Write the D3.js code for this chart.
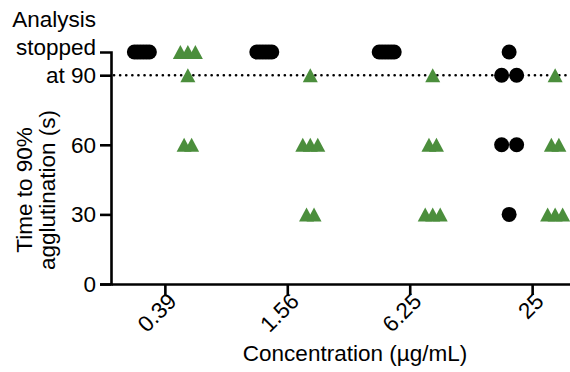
<!DOCTYPE html>
<html>
<head>
<meta charset="utf-8">
<script src="https://cdn.jsdelivr.net/npm/d3@7"></script>
<style>
  body { margin: 0; background: #fff; }
  svg { display: block; font-family: "Liberation Sans", Arial, sans-serif; }
</style>
</head>
<body>
<script>
// concentrations on the x axis (ug/mL)
const concentrations = ["0.39", "1.56", "6.25", "25"];
// time to 90% agglutination (s), 100 = analysis stopped
const blackTimes = [
  [100, 100, 100, 100, 100, 100],
  [100, 100, 100, 100, 100, 100],
  [100, 100, 100, 100, 100, 100],
  [100, 90, 90, 60, 60, 30]
];
const greenTimes = [
  [100, 100, 100, 90, 60, 60],
  [90, 60, 60, 60, 30, 30],
  [90, 60, 60, 30, 30, 30],
  [90, 60, 60, 30, 30, 30]
];
const yTicks = [0, 30, 60, 90];
const stopLine = 90;

const width = 570;
const height = 372;
const fs = 22.5;
const green = "#4b8e3c";

const svg = d3.select("body")
  .append("svg")
  .attr("width", width)
  .attr("height", height);

const x = d3.scalePoint()
  .domain(concentrations)
  .range([111, 586])
  .padding(0.44);

const y = d3.scaleLinear()
  .domain([0, 100])
  .range([284, 52]);

// spread repeated values sideways, like a column scatter
function layout(groups, shift, maxStep) {
  const pts = [];
  groups.forEach((vals, gi) => {
    const counts = d3.rollup(vals, v => v.length, d => d);
    counts.forEach((n, v) => {
      const step = n > 1 ? Math.min(maxStep, 15 / (n - 1)) : 0;
      for (let i = 0; i < n; i++) {
        pts.push({
          cx: x(concentrations[gi]) + shift + (i - (n - 1) / 2) * step,
          cy: y(v)
        });
      }
    });
  });
  return pts;
}

// dotted line at 90 s
svg.append("line")
  .attr("x1", 114)
  .attr("x2", width)
  .attr("y1", y(stopLine))
  .attr("y2", y(stopLine))
  .attr("stroke", "#000")
  .attr("stroke-width", 2.6)
  .attr("stroke-linecap", "round")
  .attr("stroke-dasharray", "0.1,6");

svg.selectAll(".dot")
  .data(layout(blackTimes, -23, 15))
  .enter()
  .append("circle")
  .attr("class", "dot")
  .attr("cx", d => d.cx)
  .attr("cy", d => d.cy)
  .attr("r", 7.5)
  .attr("fill", "#000");

svg.selectAll(".tri")
  .data(layout(greenTimes, 23, 7.5))
  .enter()
  .append("path")
  .attr("class", "tri")
  .attr("d", "M-7.5,7L7.5,7L0,-7Z")
  .attr("transform", d => `translate(${d.cx},${d.cy})`)
  .attr("fill", green);

// y axis
const yAxis = svg.append("g")
  .attr("transform", "translate(111,0)")
  .call(d3.axisLeft(y).tickValues(yTicks).tickSize(11).tickPadding(4)
    .tickFormat(d => d === 90 ? "at 90" : d));
yAxis.select(".domain").attr("stroke-width", 2.6);
yAxis.selectAll(".tick line").attr("stroke-width", 2.6);
yAxis.selectAll(".tick text").attr("font-size", fs).attr("fill", "#000");

["stopped", "Analysis"].forEach((t, i) => {
  yAxis.append("text")
    .attr("x", -15)
    .attr("y", y(90) - 27.5 * (i + 1))
    .attr("dy", "0.32em")
    .attr("text-anchor", "end")
    .attr("font-size", fs)
    .attr("fill", "#000")
    .text(t);
});

// x axis
const xAxis = svg.append("g")
  .attr("transform", "translate(0,284)")
  .call(d3.axisBottom(x).tickSize(11).tickSizeOuter(0).tickPadding(4));
xAxis.select(".domain").attr("stroke-width", 2.6);
xAxis.selectAll(".tick line").attr("stroke-width", 2.6);
xAxis.selectAll(".tick text")
  .attr("font-size", fs)
  .attr("fill", "#000")
  .attr("text-anchor", "end")
  .attr("dy", "0.35em")
  .attr("transform", "translate(7,13) rotate(-45)")
  .attr("y", 0);

// axis titles
svg.append("text")
  .attr("x", 355)
  .attr("y", 361)
  .attr("text-anchor", "middle")
  .attr("font-size", fs)
  .text("Concentration (µg/mL)");

const ylab = svg.append("text")
  .attr("transform", "translate(32,190) rotate(-90)")
  .attr("text-anchor", "middle")
  .attr("font-size", fs);
ylab.append("tspan").attr("x", 0).attr("y", 0).text("Time to 90%");
ylab.append("tspan").attr("x", 0).attr("y", 22.5).text("agglutination (s)");
</script>
</body>
</html>
